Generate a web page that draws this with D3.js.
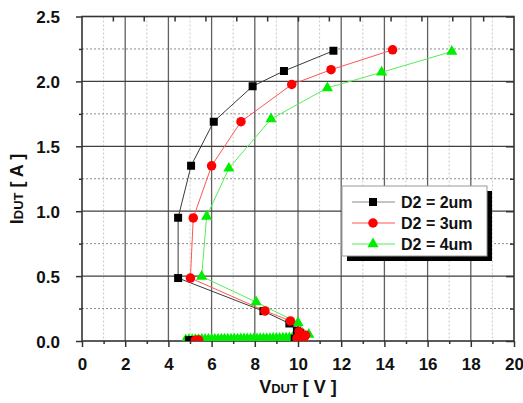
<!DOCTYPE html>
<html><head><meta charset="utf-8">
<script src="https://cdn.jsdelivr.net/npm/d3@7/dist/d3.min.js"></script>
<style>body{margin:0;background:#fff}svg{display:block}</style>
</head><body>
<svg id="c" width="523" height="403"></svg>
<script>
// ---- data ----
const seriesNames = ["D2 = 2um", "D2 = 3um", "D2 = 4um"];
const vD2_2 = [4.95,5.10,9.85,10.00,10.15,10.10,9.95,9.60,8.40,4.45,4.45,5.05,6.10,7.90,9.35,11.64];
const iD2_2 = [0.006,0.007,0.018,0.022,0.035,0.060,0.080,0.135,0.230,0.485,0.950,1.350,1.690,1.963,2.080,2.236];
const vD2_3 = [5.25,5.40,9.95,10.15,10.30,10.35,10.05,9.65,8.47,5.02,5.15,6.00,7.36,9.71,11.53,14.38];
const iD2_3 = [0.006,0.007,0.020,0.026,0.032,0.045,0.072,0.155,0.232,0.485,0.948,1.350,1.690,1.976,2.090,2.243];
const vD2_4 = [4.80,4.95,5.10,5.25,5.40,5.55,5.70,5.85,6.00,6.15,6.30,6.45,6.60,6.75,6.90,7.05,7.20,7.35,7.50,7.65,7.80,7.95,8.10,8.25,8.40,8.55,8.70,8.85,9.00,9.15,9.30,9.45,9.60,9.75,9.90,10.05,10.20,10.50,10.00,8.06,5.54,5.77,6.80,8.75,11.36,13.87,17.12];
const iD2_4 = [0.008,0.009,0.009,0.010,0.010,0.011,0.011,0.011,0.012,0.012,0.012,0.013,0.013,0.013,0.014,0.014,0.014,0.015,0.015,0.015,0.016,0.016,0.016,0.017,0.017,0.018,0.018,0.019,0.019,0.020,0.021,0.022,0.024,0.026,0.028,0.031,0.035,0.050,0.140,0.300,0.497,0.960,1.330,1.710,1.950,2.070,2.230];
const xTicks = [0,2,4,6,8,10,12,14,16,18,20];
const yTicks = [0.0,0.5,1.0,1.5,2.0,2.5];
const xMinor = [1,3,5,7,9,11,13,15,17,19];
const yMinor = [0.25,0.75,1.25,1.75,2.25];
const topTicks = [1,2,3,4,5,6,7,8,9,10,11,12,13];

const series = [
  {name: seriesNames[0], v: vD2_2, i: iD2_2, line: "#3a3a3a", fill: "#000000", legLine: "#8a8a8a", shape: "square"},
  {name: seriesNames[1], v: vD2_3, i: iD2_3, line: "#ff5555", fill: "#ff0000", legLine: "#ff5555", shape: "circle"},
  {name: seriesNames[2], v: vD2_4, i: iD2_4, line: "#55ee55", fill: "#00ee00", legLine: "#55ee55", shape: "triangle"}
];
const markerOrder = [2, 0, 1];

// ---- layout ----
const L = 82, R = 514, T = 16.5, B = 341;
const svg = d3.select("#c");
const x = d3.scaleLinear().domain([0,20]).range([L,R]);
const y = d3.scaleLinear().domain([0,2.5]).range([B,T]);
const xTop = d3.scaleLinear().domain([0,14]).range([L,R]);
const font = "'Liberation Sans', Arial, sans-serif";

svg.append("defs").append("clipPath").attr("id","clip")
  .append("rect").attr("x",L).attr("y",T).attr("width",R-L).attr("height",B-T);

const g = svg.append("g");
g.selectAll(".vmin").data(xMinor).join("line")
  .attr("x1",d=>x(d)).attr("x2",d=>x(d)).attr("y1",T).attr("y2",B)
  .attr("stroke","#c8c8c8").attr("stroke-width",1).attr("stroke-dasharray","2,2");
g.selectAll(".hmin").data(yMinor).join("line")
  .attr("y1",d=>y(d)).attr("y2",d=>y(d)).attr("x1",L).attr("x2",R)
  .attr("stroke","#8c8c8c").attr("stroke-width",1).attr("stroke-dasharray","2,2");
g.selectAll(".vmaj").data(xTicks.slice(1,-1)).join("line")
  .attr("x1",d=>x(d)).attr("x2",d=>x(d)).attr("y1",T).attr("y2",B)
  .attr("stroke","#606060").attr("stroke-width",1.3);
g.selectAll(".hmaj").data(yTicks.slice(1,-1)).join("line")
  .attr("y1",d=>y(d)).attr("y2",d=>y(d)).attr("x1",L).attr("x2",R)
  .attr("stroke","#404040").attr("stroke-width",1.2);

const axB = svg.append("g").attr("transform",`translate(0,${B})`)
  .call(d3.axisBottom(x).tickValues(xTicks).tickSize(6).tickFormat(d3.format("d")));
const axBm = svg.append("g").attr("transform",`translate(0,${B})`)
  .call(d3.axisBottom(x).tickValues(xMinor).tickSize(3).tickFormat(""));
const axL = svg.append("g").attr("transform",`translate(${L},0)`)
  .call(d3.axisLeft(y).tickValues(yTicks).tickSize(6).tickFormat(d3.format(".1f")));
const axLm = svg.append("g").attr("transform",`translate(${L},0)`)
  .call(d3.axisLeft(y).tickValues(yMinor).tickSize(3).tickFormat(""));
const axR = svg.append("g").attr("transform",`translate(${R},0)`)
  .call(d3.axisLeft(y).tickValues(yTicks).tickSize(8).tickFormat(""));
const axRm = svg.append("g").attr("transform",`translate(${R},0)`)
  .call(d3.axisLeft(y).tickValues(yMinor).tickSize(4).tickFormat(""));
const axT = svg.append("g").attr("transform",`translate(0,${T})`)
  .call(d3.axisBottom(xTop).tickValues(topTicks).tickSize(5).tickFormat(""));
[axB,axBm,axL,axLm,axR,axRm,axT].forEach(a=>{
  a.select(".domain").remove();
  a.selectAll(".tick line").attr("stroke","#333").attr("stroke-width",1.5);
  a.selectAll("text").attr("font-family",font).attr("font-weight","bold")
    .attr("font-size",17).attr("fill","#111");
});
axB.selectAll("text").attr("dy","1.15em");
axL.selectAll("text").attr("x",-22).attr("dy","0.36em");

svg.append("rect").attr("x",L).attr("y",T).attr("width",R-L).attr("height",B-T)
  .attr("fill","none").attr("stroke","#333").attr("stroke-width",1.6);

function sym(shape, size){
  if(shape==="square") return d3.symbol(d3.symbolSquare, size*size)();
  if(shape==="circle") return d3.symbol(d3.symbolCircle, Math.PI*size*size/4)();
  return d3.symbol(d3.symbolTriangle, size*size*0.45)();
}
const sizes = {square: 8, circle: 9.5, triangle: 11};

const plot = svg.append("g").attr("clip-path","url(#clip)");
series.forEach(s=>{
  const pts = s.v.map((v,k)=>[v,s.i[k]]);
  plot.append("path").datum(pts)
    .attr("d", d3.line().x(d=>x(d[0])).y(d=>y(d[1])))
    .attr("fill","none").attr("stroke",s.line).attr("stroke-width",1);
});
markerOrder.forEach(idx=>{
  const s = series[idx];
  const pts = s.v.map((v,k)=>[v,s.i[k]]);
  plot.selectAll(null).data(pts).join("path")
    .attr("transform",d=>`translate(${x(d[0])},${y(d[1])})`)
    .attr("d", sym(s.shape, sizes[s.shape]))
    .attr("fill", s.fill);
});

const xt = svg.append("text").attr("x",298).attr("y",393).attr("text-anchor","middle")
  .attr("font-family",font).attr("font-weight","bold").attr("fill","#111");
xt.append("tspan").attr("font-size",18).text("V");
xt.append("tspan").attr("font-size",13).text("DUT");
xt.append("tspan").attr("font-size",18).text(" [ V ]");

const yt = svg.append("text").attr("transform","translate(23,189) rotate(-90)").attr("text-anchor","middle")
  .attr("font-family",font).attr("font-weight","bold").attr("fill","#111");
yt.append("tspan").attr("font-size",18).text("I");
yt.append("tspan").attr("font-size",13).text("DUT");
yt.append("tspan").attr("font-size",18).text(" [ A ]");

const lx = 342, ly = 186, lw = 145, lh = 70;
const leg = svg.append("g");
leg.append("rect").attr("x",lx+5).attr("y",ly+5).attr("width",lw).attr("height",lh).attr("fill","#000");
leg.append("rect").attr("x",lx).attr("y",ly).attr("width",lw).attr("height",lh)
  .attr("fill","#fff").attr("stroke","#999").attr("stroke-width",1);
series.forEach((s,k)=>{
  const cy = ly + 16 + k*21;
  leg.append("line").attr("x1",lx+10).attr("x2",lx+53).attr("y1",cy).attr("y2",cy)
    .attr("stroke",s.legLine).attr("stroke-width",1.2);
  leg.append("path").attr("transform",`translate(${lx+31},${cy})`)
    .attr("d", sym(s.shape, sizes[s.shape])).attr("fill", s.fill);
  leg.append("text").attr("x",lx+59).attr("y",cy).attr("dy","0.36em")
    .attr("font-family",font).attr("font-weight","bold").attr("font-size",16)
    .attr("fill","#111").text(s.name);
});
</script>
</body></html>
